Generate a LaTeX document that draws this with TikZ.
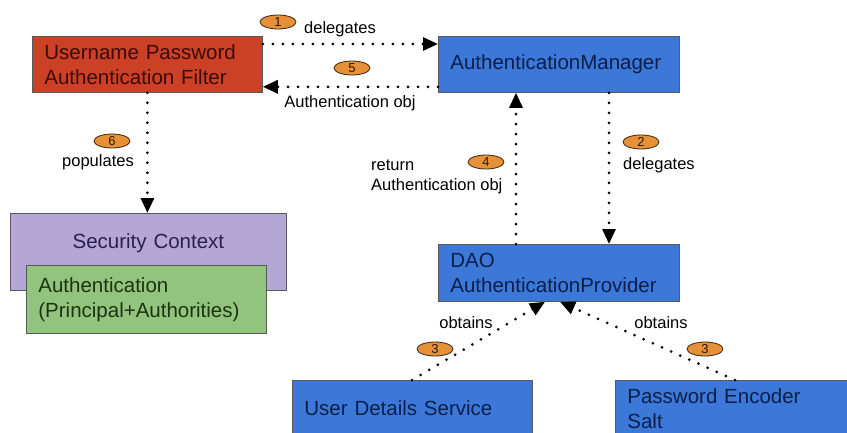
\documentclass[tikz,border=0pt]{standalone}
\usepackage{fontspec}
\setmainfont{Liberation Sans}
\usetikzlibrary{arrows.meta,shapes.geometric}
\definecolor{filterred}{HTML}{CC4125}
\definecolor{filtertext}{HTML}{3B0A0A}
\definecolor{blockblue}{HTML}{3C78D8}
\definecolor{blocktext}{HTML}{0C1F4A}
\definecolor{contextpurple}{HTML}{B4A7D6}
\definecolor{contexttext}{HTML}{2B1F4F}
\definecolor{authgreen}{HTML}{93C47D}
\definecolor{authtext}{HTML}{1B3311}
\definecolor{badgeorange}{HTML}{E69138}
\definecolor{edgegrey}{HTML}{595959}

\begin{document}
\begin{tikzpicture}[x=1pt,y=-1pt,
  block/.style={draw=edgegrey, line width=0.8pt, anchor=north west, inner xsep=12pt,
    inner ysep=0pt, align=left, font=\fontsize{20.5}{25}\selectfont},
  badge/.style={ellipse, draw=black!70!brown, line width=0.8pt, fill=badgeorange,
    minimum width=36pt, minimum height=14pt, inner sep=0pt,
    font=\fontsize{13}{13}\selectfont, text=black!80!brown},
  note/.style={font=\fontsize{16.5}{20}\selectfont, align=left, inner sep=0pt},
  flow/.style={line width=3pt, line cap=round, dash pattern=on 0pt off 10pt,
    -{Triangle[length=15pt,width=13pt]}}
]
  \clip (0,0) rectangle (847,432);

  \node[block, fill=filterred, text=filtertext, text width=206pt, minimum height=56pt]
    (filter) at (32,36) {Username Password\\Authentication Filter};
  \node[block, fill=blockblue, text=blocktext, text width=217pt, minimum height=56pt]
    (manager) at (438,36) {AuthenticationManager};
  \node[block, fill=contextpurple, text=contexttext, text width=252pt, align=center,
    text height=35pt, text depth=42pt] (context) at (10,213) {Security Context};
  \node[block, fill=authgreen, text=authtext, text width=216pt, minimum height=68pt]
    (authobj) at (26,265) {Authentication\\(Principal+Authorities)};
  \node[block, fill=blockblue, text=blocktext, text width=217pt, minimum height=57pt]
    (dao) at (438,244) {DAO\\AuthenticationProvider};
  \node[block, fill=blockblue, text=blocktext, text width=216pt, minimum height=56pt]
    (userdetails) at (292,380) {User Details Service};
  \node[block, fill=blockblue, text=blocktext, text width=216pt, minimum height=56pt]
    (encoder) at (615,380) {Password Encoder\\Salt};

  % 1 and 5 between filter and manager
  \draw[flow] ([yshift=-8pt]filter.north east) -- ([yshift=-8pt]manager.north west);
  \draw[flow] ([yshift=6pt]manager.south west) -- ([yshift=6pt]filter.south east);
  % 6 populates the context
  \draw[flow] (filter.south) -- (filter.south |- context.north);
  % 2 and 4 between manager and provider
  \draw[flow] ([xshift=171pt]manager.south west) -- ([xshift=171pt]manager.south west |- dao.north);
  \draw[flow] ([xshift=78pt]dao.north west) -- ([xshift=78pt]dao.north west |- manager.south);
  % 3 obtains
  \draw[flow] ([xshift=120pt]userdetails.north west) -- ([xshift=107pt]dao.south west);
  \draw[flow] ([xshift=120pt]encoder.north west) -- ([xshift=122pt]dao.south west);

  \node[badge] (b1) at (278,22) {1};
  \node[badge] (b5) at (352,68) {5};
  \node[badge] (b6) at (112,141) {6};
  \node[badge] (b4) at (486,162) {4};
  \node[badge] (b2) at (641,142) {2};
  \node[badge] (b3a) at (435,349) {3};
  \node[badge] (b3b) at (705,349) {3};

  \node[note] (n1) at (340,29) {delegates};
  \node[note] (n5) at (350,103) {Authentication obj};
  \node[note] (n6) at (98,162) {populates};
  \node[note, anchor=west] (n4) at (371,177) {return\\Authentication obj};
  \node[note, anchor=west] (n2) at (623,165) {delegates};
  \node[note] (n3a) at (466,323) {obtains};
  \node[note] (n3b) at (661,323) {obtains};
\end{tikzpicture}
\end{document}
